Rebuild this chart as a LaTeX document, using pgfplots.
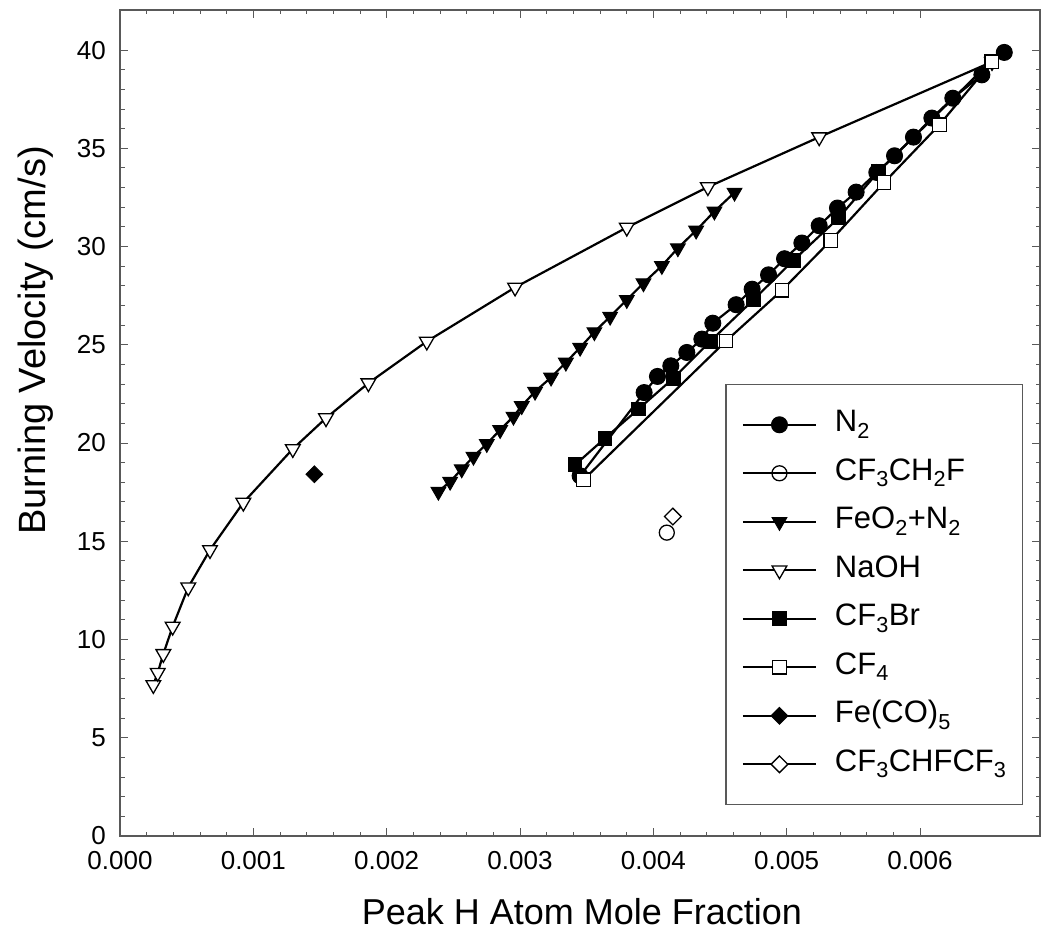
\documentclass[border=0pt]{standalone}
\usepackage{pgfplots}
\pgfplotsset{compat=1.18}
\usepackage{fontspec}
\setmainfont{Liberation Sans}

\pgfplotstableread{
x y
0.003451 18.33
0.003931 22.57
0.004031 23.39
0.004131 23.93
0.004251 24.61
0.004364 25.29
0.004446 26.10
0.004621 27.04
0.004741 27.83
0.004864 28.56
0.004984 29.38
0.005114 30.18
0.005244 31.06
0.005381 31.96
0.005521 32.77
0.005676 33.77
0.005809 34.62
0.005951 35.57
0.006089 36.54
0.006246 37.55
0.006464 38.74
0.006632 39.88
}\NtwoTable

\pgfplotstableread{
x y
0.002388 17.53
0.002476 18.04
0.002563 18.67
0.002651 19.31
0.002751 19.96
0.002851 20.67
0.002951 21.35
0.003013 21.89
0.003113 22.62
0.003233 23.34
0.003344 24.10
0.003451 24.86
0.003558 25.65
0.003676 26.44
0.003801 27.29
0.003926 28.14
0.004064 29.02
0.004184 29.92
0.004321 30.82
0.004458 31.79
0.004609 32.75
}\FeOTable

\pgfplotstableread{
x y
0.000250 7.69
0.000283 8.31
0.000325 9.27
0.000395 10.66
0.000512 12.66
0.000675 14.56
0.000925 16.97
0.001296 19.70
0.001545 21.27
0.001863 23.05
0.002301 25.17
0.002963 27.92
0.003801 30.97
0.004409 33.03
0.005244 35.57
0.006540 39.40
}\NaOHTable

\pgfplotstableread{
x y
0.003413 18.89
0.003638 20.25
0.003889 21.73
0.004151 23.30
0.004426 25.17
0.004751 27.29
0.005051 29.30
0.005389 31.45
0.005689 33.82
0.006532 39.42
}\CFBrTable

\pgfplotstableread{
x y
0.003476 18.13
0.004546 25.20
0.004964 27.77
0.005331 30.31
0.005731 33.26
0.006146 36.20
0.006540 39.40
}\CFfourTable

\begin{document}
\begin{tikzpicture}
\begin{axis}[
  at={(0pt,0pt)}, anchor=south west,
  scale only axis, width=920pt, height=826pt,
  xmin=0, xmax=0.0069, ymin=0, ymax=42.04,
  xtick={0,0.001,0.002,0.003,0.004,0.005,0.006},
  xticklabels={0.000,0.001,0.002,0.003,0.004,0.005,0.006},
  scaled x ticks=false,
  ytick={0,5,10,15,20,25,30,35,40},
  yticklabels={0,5,10,15,20,25,30,35,40},
  minor x tick num=4, minor y tick num=4,
  tick align=inside,
  major tick length=8pt, minor tick length=4.5pt,
  axis line style={gray!70!black, line width=1.2pt},
  every tick/.style={gray!70!black, line width=1pt},
  ticklabel style={font=\fontsize{26}{30}\selectfont, inner sep=0pt},
  xticklabel style={yshift=-15pt},
  yticklabel style={xshift=-14pt},
  xlabel={Peak H Atom Mole Fraction},
  ylabel={Burning Velocity (cm/s)},
  xlabel style={font=\fontsize{36}{40}\selectfont, at={(axis description cs:0.502,-0.092)}, anchor=center},
  ylabel style={font=\fontsize{38}{42}\selectfont, at={(axis description cs:-0.092,0.60)}, anchor=center},
  legend style={at={(axis description cs:0.658,0.547)}, anchor=north west,
    draw=gray!70!black, line width=1.2pt, inner xsep=16pt, inner ysep=26pt,
    row sep=20.5pt, column sep=18pt, font=\fontsize{31}{34}\selectfont,
    nodes={inner sep=0pt, text height=21pt, text depth=7pt}},
  legend cell align=left,
  legend image code/.code={\draw[mark repeat=2,mark phase=2,line width=2pt] plot coordinates {(0pt,0pt) (36.5pt,0pt) (73pt,0pt)};},
  every axis plot/.append style={black, line width=2.2pt},
]
\addplot[mark=*, mark size=8pt, mark options={solid, fill=black, draw=black, line width=1pt}] table[x=x,y=y] {\NtwoTable};
\addlegendentry{N\textsubscript{2}}
\addplot[mark=o, mark size=7.5pt, mark options={solid, fill=white, draw=black, line width=1.3pt}] coordinates {(0.004101,15.44)};
\addlegendentry{CF\textsubscript{3}CH\textsubscript{2}F}
\addplot[mark=triangle*, mark size=8.5pt, mark options={solid, rotate=180, fill=black, draw=black, line width=1pt}] table[x=x,y=y] {\FeOTable};
\addlegendentry{FeO\textsubscript{2}+N\textsubscript{2}}
\addplot[mark=triangle*, mark size=8.5pt, mark options={solid, rotate=180, fill=white, draw=black, line width=1.3pt}] table[x=x,y=y] {\NaOHTable};
\addlegendentry{NaOH}
\addplot[mark=square*, mark size=6.9pt, mark options={solid, fill=black, draw=black, line width=1pt}] table[x=x,y=y] {\CFBrTable};
\addlegendentry{CF\textsubscript{3}Br}
\addplot[mark=square*, mark size=6.7pt, mark options={solid, fill=white, draw=black, line width=1.3pt}] table[x=x,y=y] {\CFfourTable};
\addlegendentry{CF\textsubscript{4}}
\addplot[mark=square*, mark size=5.9pt, mark options={solid, rotate=45, fill=black, draw=black, line width=1pt}] coordinates {(0.001458,18.41)};
\addlegendentry{Fe(CO)\textsubscript{5}}
\addplot[mark=square*, mark size=5.9pt, mark options={solid, rotate=45, fill=white, draw=black, line width=1.3pt}] coordinates {(0.004146,16.26)};
\addlegendentry{CF\textsubscript{3}CHFCF\textsubscript{3}}
\end{axis}
\pgfresetboundingbox
\path[use as bounding box] (-120pt,-106pt) rectangle (921pt,836pt);
\end{tikzpicture}
\end{document}
